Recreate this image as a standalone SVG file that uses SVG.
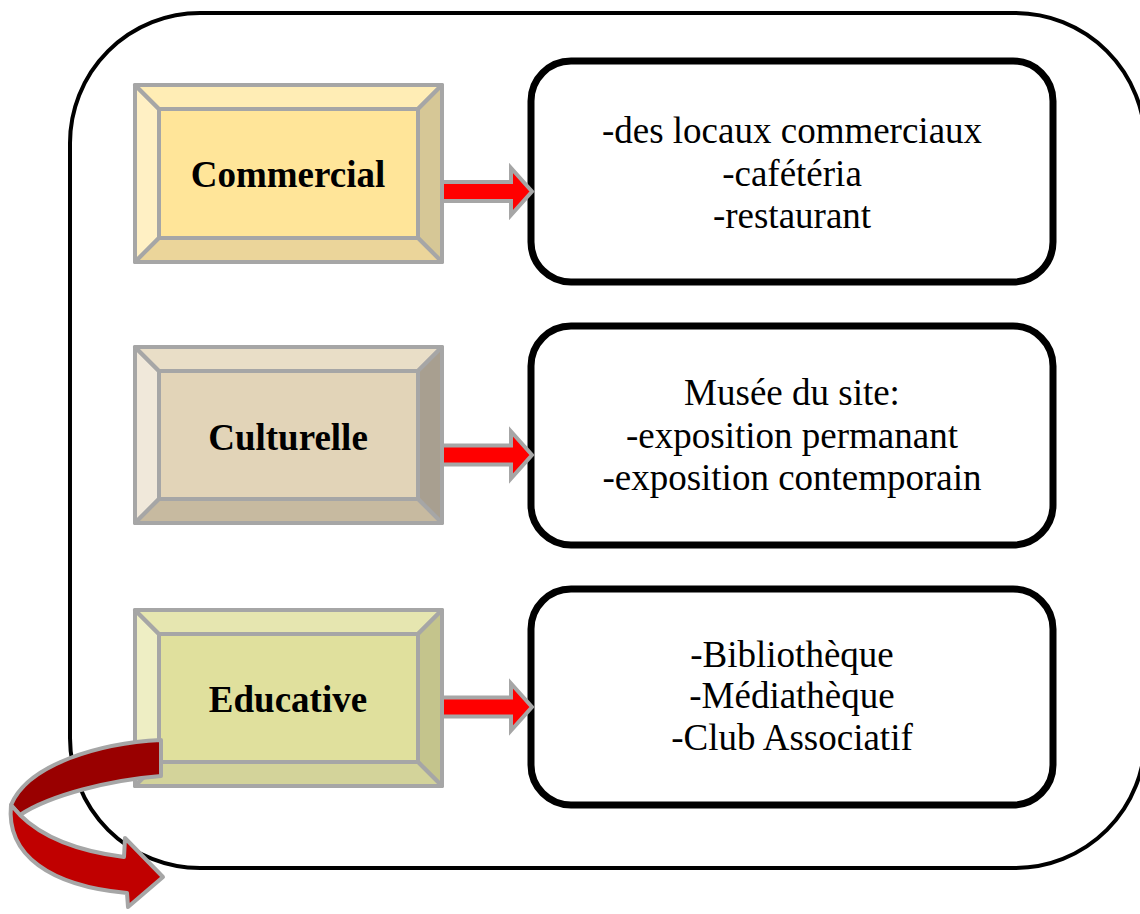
<svg xmlns="http://www.w3.org/2000/svg" width="1140" height="914" viewBox="0 0 1140 914">
<style>
.frame{fill:#fff;stroke:#000;stroke-width:4}
.bev{stroke:#a6a6a6;stroke-width:4;stroke-linejoin:round}
.box{fill:#fff;stroke:#000;stroke-width:7}
.lbl{font-family:"Liberation Serif","Times New Roman",serif;font-weight:bold;font-size:37px;fill:#000;text-anchor:middle}
.txt{font-family:"Liberation Serif","Times New Roman",serif;font-size:37px;fill:#000;text-anchor:middle}
.arr{fill:#ff0000;stroke:#a6a6a6;stroke-width:4;stroke-linejoin:miter}
.curl{stroke:#a6a6a6;stroke-width:4;stroke-linejoin:round}
</style>
<defs>
<path id="arrowShape" d="M0,-9.5 L69,-9.5 L69,-23.5 L90,0 L69,23.5 L69,9.5 L0,9.5 Z"/>
</defs>
<rect class="frame" x="70" y="13" width="1075" height="855" rx="130" ry="130"/>

<g id="commercial">
<polygon class="bev" fill="#fff0c4" points="135,85 159,109 159,238 135,262"/>
<polygon class="bev" fill="#ffedb5" points="135,85 442,85 418,109 159,109"/>
<polygon class="bev" fill="#d6c796" points="442,85 442,262 418,238 418,109"/>
<polygon class="bev" fill="#ebd59a" points="135,262 159,238 418,238 442,262"/>
<rect class="bev" fill="#ffe599" x="159" y="109" width="259" height="129"/>
<text class="lbl" x="288" y="187">Commercial</text>
</g>

<g id="culturelle">
<polygon class="bev" fill="#f0e8da" points="135,347 159,371 159,499 135,523"/>
<polygon class="bev" fill="#e9dec7" points="135,347 442,347 418,371 159,371"/>
<polygon class="bev" fill="#a89f90" points="442,347 442,523 418,499 418,371"/>
<polygon class="bev" fill="#c7baa0" points="135,523 159,499 418,499 442,523"/>
<rect class="bev" fill="#e2d4b8" x="159" y="371" width="259" height="128"/>
<text class="lbl" x="288" y="450">Culturelle</text>
</g>

<g id="educative">
<polygon class="bev" fill="#eeeec4" points="135,610 159,634 159,762 135,786"/>
<polygon class="bev" fill="#e6e6b0" points="135,610 442,610 418,634 159,634"/>
<polygon class="bev" fill="#c4c48c" points="442,610 442,786 418,762 418,634"/>
<polygon class="bev" fill="#d3d39a" points="135,786 159,762 418,762 442,786"/>
<rect class="bev" fill="#e0e09d" x="159" y="634" width="259" height="128"/>
<text class="lbl" x="288" y="712">Educative</text>
</g>

<g id="box-commercial">
<rect class="box" x="531" y="61" width="522" height="221" rx="40" ry="40"/>
<text class="txt" x="792" y="143">-des locaux commerciaux</text>
<text class="txt" x="792" y="186">-cafétéria</text>
<text class="txt" x="792" y="228">-restaurant</text>
</g>

<g id="box-culturelle">
<rect class="box" x="531" y="326" width="522" height="219" rx="40" ry="40"/>
<text class="txt" x="792" y="405">Musée du site:</text>
<text class="txt" x="792" y="448">-exposition permanant</text>
<text class="txt" x="792" y="490">-exposition contemporain</text>
</g>

<g id="box-educative">
<rect class="box" x="531" y="589" width="522" height="216" rx="40" ry="40"/>
<text class="txt" x="792" y="667">-Bibliothèque</text>
<text class="txt" x="792" y="708">-Médiathèque</text>
<text class="txt" x="792" y="750">-Club Associatif</text>
</g>

<g id="connectors">
<use href="#arrowShape" class="arr" transform="translate(442,191.5)"/>
<use href="#arrowShape" class="arr" transform="translate(442,455)"/>
<use href="#arrowShape" class="arr" transform="translate(442,707)"/>
</g>

<g id="curved-arrow">
<path class="curl" fill="#990000" d="M161,740 C100,743 28,764 11,805 L20,815 C50,795 110,780 161,776 Z"/>
<path class="curl" fill="#c00000" d="M11,805 C6,855 50,886 127,893 L128,907 L163,877 L125,838 L124,857 C85,852 45,840 20,815 Z"/>
</g>
</svg>
